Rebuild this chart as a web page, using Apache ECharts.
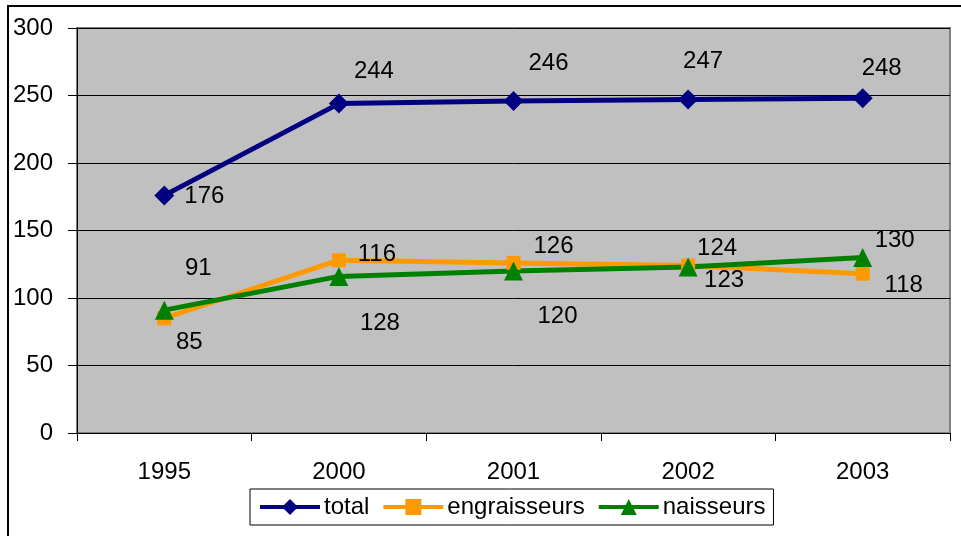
<!DOCTYPE html>
<html>
<head>
<meta charset="utf-8">
<script src="https://cdn.jsdelivr.net/npm/echarts@6/dist/echarts.min.js"></script>
<style>
  html, body { margin: 0; padding: 0; background: #fff; }
  #chart { width: 961px; height: 536px; }
</style>
</head>
<body>
<div id="chart"></div>
<script>
// données du graphique
const years = ['1995', '2000', '2001', '2002', '2003'];
const total = [176, 244, 246, 247, 248];
const engraisseurs = [85, 128, 126, 124, 118];
const naisseurs = [91, 116, 120, 123, 130];
const yTicks = { min: 0, max: 300, interval: 50 };

// décalage des étiquettes (placées à la main comme dans l'original)
const totalLabelPos = [[40, 1], [35, -32], [35, -38], [15, -38], [19, -30]];
const engrLabelPos = [[25, 24], [41, 63], [40, -17], [29, -17], [41, 12]];
const naisLabelPos = [[34, -42], [38, -22], [44, 45], [36, 13], [32, -17]];

const FONT = 'Liberation Sans, Arial, sans-serif';

const withLabels = (values, offsets) => values.map((v, i) => ({
  value: v,
  label: { offset: offsets[i] }
}));

const seriesBase = (name, color, symbol, size, values, offsets) => ({
  name: name,
  type: 'line',
  data: withLabels(values, offsets),
  symbol: symbol,
  symbolSize: size,
  lineStyle: { color: color, width: 5 },
  itemStyle: { color: color },
  label: {
    show: true,
    position: 'inside',
    formatter: '{c}',
    color: '#000',
    fontSize: 24,
    fontFamily: FONT
  },
  emphasis: { disabled: true },
  animation: false
});

const myChart = echarts.init(document.getElementById('chart'));

const option = {
  backgroundColor: '#fff',
  graphic: [{
    type: 'rect',
    shape: { x: 8, y: 6, width: 1000, height: 600 },
    style: { fill: 'none', stroke: '#000', lineWidth: 2 },
    silent: true
  }],
  grid: {
    left: 77,
    right: 11,
    top: 28,
    bottom: 103,
    show: true,
    backgroundColor: '#c0c0c0',
    borderColor: '#808080',
    borderWidth: 2
  },
  legend: {
    left: 250,
    top: 489,
    itemWidth: 60,
    itemHeight: 20,
    itemGap: 12,
    padding: [6, 8],
    borderColor: '#000',
    borderWidth: 1,
    backgroundColor: '#fff',
    lineStyle: { width: 4 },
    textStyle: { fontSize: 24, color: '#000', fontFamily: FONT, padding: [0, 0, 0, -1] },
    data: ['total', 'engraisseurs', 'naisseurs']
  },
  xAxis: {
    type: 'category',
    data: years,
    boundaryGap: true,
    axisLine: { lineStyle: { color: '#000', width: 1 } },
    axisTick: { show: true, length: 8, lineStyle: { color: '#000' } },
    axisLabel: { color: '#000', fontSize: 24, fontFamily: FONT, margin: 27 },
    splitLine: { show: false }
  },
  yAxis: {
    type: 'value',
    min: yTicks.min,
    max: yTicks.max,
    interval: yTicks.interval,
    axisLine: { show: true, lineStyle: { color: '#000', width: 1 } },
    axisTick: { show: true, length: 9, lineStyle: { color: '#000' } },
    axisLabel: { color: '#000', fontSize: 24, fontFamily: FONT, margin: 24 },
    splitLine: { lineStyle: { color: '#000', width: 1 } }
  },
  series: [
    seriesBase('total', '#000080', 'diamond', 20, total, totalLabelPos),
    seriesBase('engraisseurs', '#ff9900', 'rect', 14, engraisseurs, engrLabelPos),
    seriesBase('naisseurs', '#008000', 'triangle', 19, naisseurs, naisLabelPos)
  ]
};

myChart.setOption(option);
</script>
</body>
</html>
